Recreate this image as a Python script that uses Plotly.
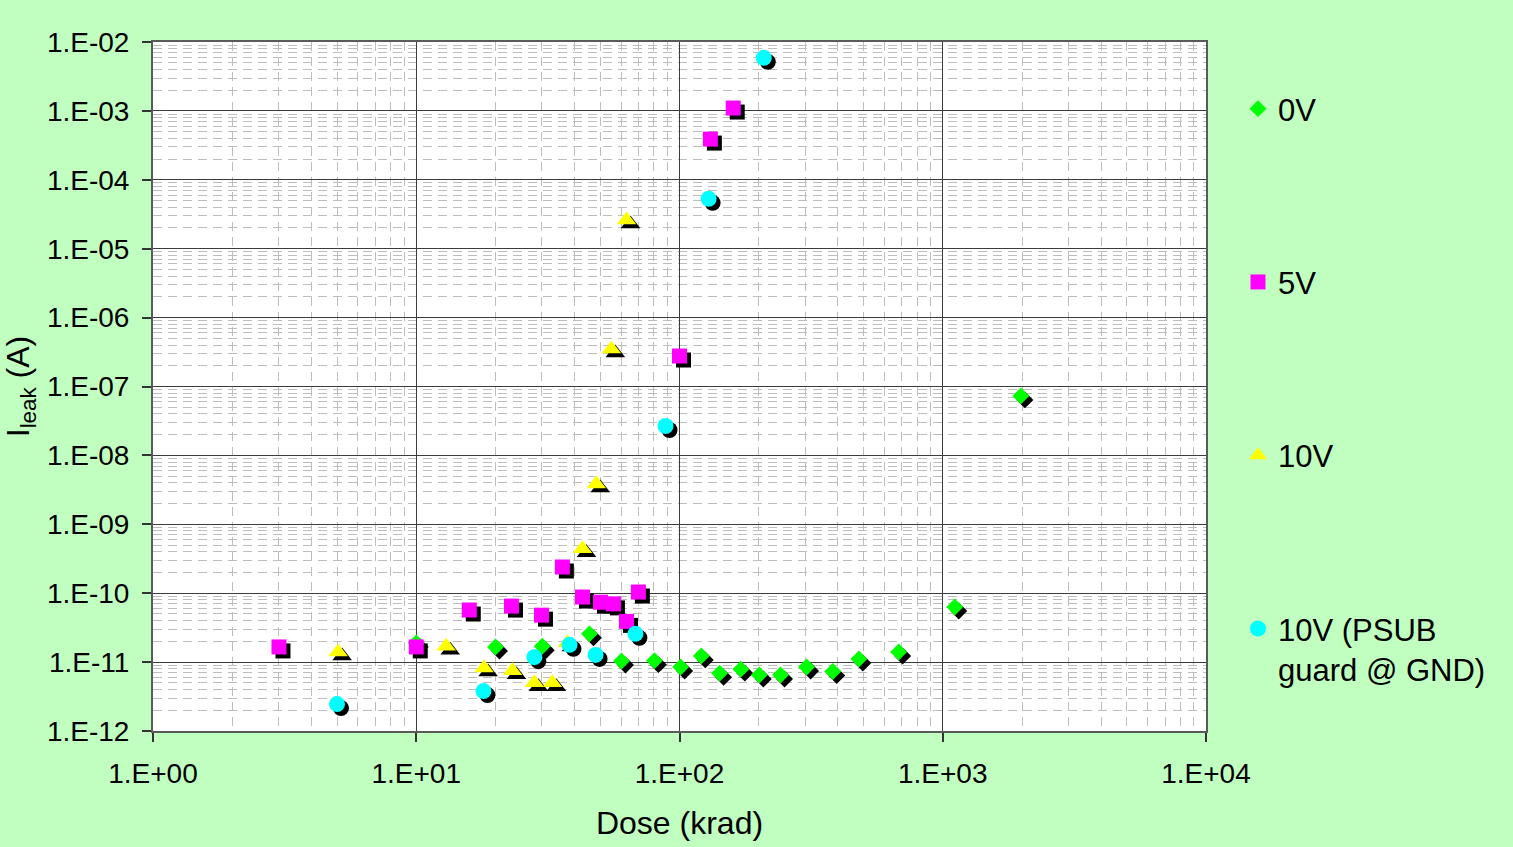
import plotly.graph_objects as go

# Leakage current vs. total ionising dose, four bias conditions
dose_0v = [10.0, 20.0, 30.1, 45.5, 60.2, 80.3, 101, 121, 142, 171, 201, 242, 304, 382, 480, 680, 1111, 1981]
ileak_0v = [1.9e-11, 1.66e-11, 1.7e-11, 2.57e-11, 1.04e-11, 1.05e-11, 8.5e-12, 1.23e-11, 6.9e-12,
            7.9e-12, 6.5e-12, 6.5e-12, 8.5e-12, 7.3e-12, 1.11e-11, 1.4e-11, 6.3e-11, 7.3e-08]

dose_5v = [3.01, 10.0, 15.9, 23.0, 29.9, 35.9, 42.8, 50.1, 56.1, 62.9, 69.8, 100, 131, 160]
ileak_5v = [1.66e-11, 1.66e-11, 5.7e-11, 6.5e-11, 4.8e-11, 2.4e-10, 8.8e-11, 7.4e-11, 7.0e-11,
            3.9e-11, 1.04e-10, 2.77e-07, 3.9e-04, 1.1e-03]

dose_10v = [5.05, 13.0, 18.1, 23.2, 28.1, 32.9, 37.5, 42.8, 48.3, 55.1, 62.9]
ileak_10v = [1.4e-11, 1.7e-11, 8.2e-12, 7.5e-12, 5.0e-12, 5.0e-12, 1.9e-11, 4.4e-10, 3.85e-09,
             3.5e-07, 2.6e-05]

dose_psub = [5.0, 18.0, 28.1, 38.2, 48.0, 68.0, 88.5, 129, 209]
ileak_psub = [2.46e-12, 3.8e-12, 1.18e-11, 1.78e-11, 1.27e-11, 2.57e-11, 2.67e-08, 5.3e-05, 5.9e-03]

series_names = ["0V", "5V", "10V", "10V (PSUB<br>guard @ GND)"]
series_x = [dose_0v, dose_5v, dose_10v, dose_psub]
series_y = [ileak_0v, ileak_5v, ileak_10v, ileak_psub]
series_symbols = ["diamond", "square", "triangle-up", "circle"]
series_colors = ["#00FF00", "#FF00FF", "#FFFF00", "#00FFFF"]
series_sizes = [13, 15, 17, 16]

x_tickvals = [1, 10, 100, 1000, 10000]
x_ticktext = ["1.E+00", "1.E+01", "1.E+02", "1.E+03", "1.E+04"]
y_tickvals = [10.0 ** e for e in range(-12, -1)]
y_ticktext = ["1.E-12", "1.E-11", "1.E-10", "1.E-09", "1.E-08", "1.E-07",
              "1.E-06", "1.E-05", "1.E-04", "1.E-03", "1.E-02"]

FONT = "Liberation Sans, Arial, sans-serif"
BG = "#C0FFC0"

# layout geometry (pixels)
L, R, T, B = 153, 303, 42, 112
W, H = 1513 - L - R, 847 - T - B
SH = 4  # drop-shadow offset

main_xdom = [0, (W - SH) / W]
main_ydom = [SH / H, 1]
shadow_xdom = [SH / W, 1]
shadow_ydom = [0, (H - SH) / H]

fig = go.Figure()

# frame subplot: grid, ticks and labels only
fig.add_trace(go.Scatter(x=[], y=[], xaxis="x", yaxis="y", showlegend=False, hoverinfo="skip"))

# black drop shadows, drawn on an offset copy of the axes
for xs, ys, sym, size in zip(series_x, series_y, series_symbols, series_sizes):
    fig.add_trace(go.Scatter(
        x=xs, y=ys, mode="markers", xaxis="x2", yaxis="y2",
        marker=dict(symbol=sym, size=size, color="black", line=dict(width=0)),
        showlegend=False, hoverinfo="skip"))

# coloured markers
for i, (name, xs, ys, sym, col, size) in enumerate(
        zip(series_names, series_x, series_y, series_symbols, series_colors, series_sizes)):
    fig.add_trace(go.Scatter(
        x=xs, y=ys, mode="markers", xaxis="x3", yaxis="y3", name=name,
        legendgroup=f"g{i}",
        marker=dict(symbol=sym, size=size, color=col, line=dict(width=0))))

minor_grid = dict(showgrid=True, gridcolor="#BDBDBD", gridwidth=1, griddash="9px,6px", dtick="D1")

fig.update_layout(
    width=1513, height=847,
    margin=dict(l=L, r=R, t=T, b=B, autoexpand=False),
    paper_bgcolor=BG,
    plot_bgcolor="rgba(0,0,0,0)",
    font=dict(family=FONT, color="black", size=28),
    showlegend=True,
    legend=dict(
        x=(1238 - L) / W, xanchor="left",
        y=1 - (82 - T) / H, yanchor="top",
        bgcolor="rgba(0,0,0,0)",
        font=dict(family=FONT, size=31, color="black"),
        traceorder="grouped", tracegroupgap=130, valign="top",
    ),
    xaxis=dict(
        type="log", range=[0, 4], domain=main_xdom, anchor="y",
        tickvals=x_tickvals, ticktext=x_ticktext,
        ticks="outside", ticklen=9, tickcolor="#333333", tickwidth=1.5,
        ticklabelstandoff=7,
        showgrid=True, gridcolor="#3C3C3C", gridwidth=1.3,
        minor=minor_grid,
        showline=True, linecolor="#5A5A5A", linewidth=2, mirror=True,
        zeroline=False,
        title=dict(text="Dose (krad)", font=dict(size=32), standoff=24),
        automargin=False,
    ),
    yaxis=dict(
        type="log", range=[-12, -2], domain=main_ydom, anchor="x",
        tickvals=y_tickvals, ticktext=y_ticktext,
        ticks="outside", ticklen=9, tickcolor="#333333", tickwidth=1.5,
        ticklabelstandoff=7,
        showgrid=True, gridcolor="#3C3C3C", gridwidth=1.3,
        minor=minor_grid,
        showline=True, linecolor="#5A5A5A", linewidth=2, mirror=True,
        zeroline=False,
        title=dict(text="I<sub>leak</sub> (A)", font=dict(size=32), standoff=13),
        automargin=False,
    ),
    xaxis2=dict(type="log", range=[0, 4], domain=shadow_xdom, anchor="y2", visible=False),
    yaxis2=dict(type="log", range=[-12, -2], domain=shadow_ydom, anchor="x2", visible=False),
    xaxis3=dict(type="log", range=[0, 4], domain=main_xdom, anchor="y3", visible=False),
    yaxis3=dict(type="log", range=[-12, -2], domain=main_ydom, anchor="x3", visible=False),
    shapes=[dict(type="rect", xref="x domain", yref="y domain", x0=0, x1=1, y0=0, y1=1,
                 fillcolor="white", line=dict(width=0), layer="below")],
)

fig.write_html("out.html")
